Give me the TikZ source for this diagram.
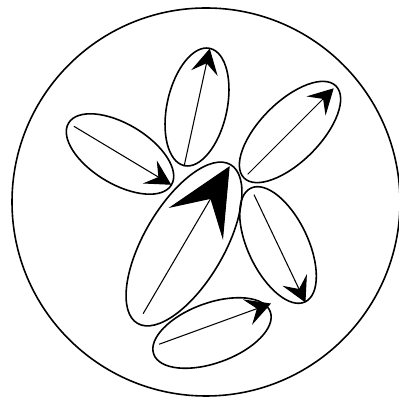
\documentclass[tikz,border=0pt]{standalone}
\usetikzlibrary{arrows.meta,shapes.geometric}
\tikzset{
  pod/.style={draw, ellipse, inner sep=0pt, line width=0.9pt},
  vec/.style={line width=0.6pt, -{Stealth[length=5mm,width=5.4mm,inset=2mm]}},
  bigvec/.style={line width=0.6pt, -{Stealth[length=13.4mm,width=12.6mm,inset=5.8mm]}}
}

\begin{document}
\begin{tikzpicture}
  \useasboundingbox (0,0) rectangle (7.98,7.92);

  % Outer circle
  \draw[line width=0.9pt] (4.12,3.88) circle (3.88);

  % Ellipses
  \foreach \n/\x/\y/\r/\w/\h in {p1/3.94/5.78/77.7/2.4/1.2, p2/2.40/4.84/-31/2.4/1.2,
      p3/5.80/5.28/45/2.6/1.2, p4/3.68/3.04/59.6/3.68/1.6,
      p5/5.56/3.02/-64.5/2.52/1.2, p6/4.24/1.26/20/2.48/1.2} {
    \node[pod, minimum width=\w cm, minimum height=\h cm, rotate=\r] (\n) at (\x,\y) {};
  }

  % Arrows along the ellipses
  \foreach \n/\s/\e in {p1/0/0.02, p2/0.14/0.02, p3/0.12/0.08, p5/0.16/0} {
    \draw[vec, shorten <=\s cm, shorten >=\e cm] (\n.west) -- (\n.east);
  }
  \draw[vec, shorten <=0.13cm] ([yshift=0.16cm]p6.west) -- ([yshift=0.16cm]p6.east);

  % Large arrow
  \draw[bigvec, shorten <=0.24cm, shorten >=0.05cm] (p4.west) -- (p4.east);
\end{tikzpicture}
\end{document}
